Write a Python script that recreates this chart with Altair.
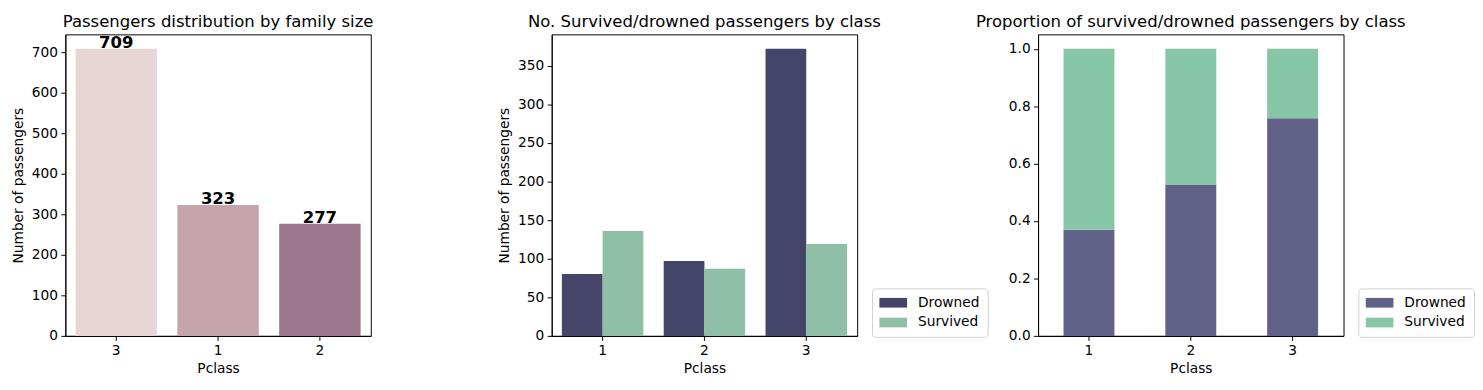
import altair as alt
import pandas as pd

# ---------------- data ----------------
# Panel 1: passengers by class (ordered as in the chart)
family_classes = ["3", "1", "2"]
family_counts = [709, 323, 277]
family_colors = ["#e8d6d6", "#c5a5ab", "#9d778b"]

# Panel 2: survived / drowned counts by class
pclasses = ["1", "2", "3"]
status_labels = ["Drowned", "Survived"]
drowned_counts = [80, 97, 372]
survived_counts = [136, 87, 119]
count_colors = ["#454569", "#8fbfa7"]

# Panel 3: proportions by class
drowned_prop = [0.370, 0.527, 0.758]
survived_prop = [0.630, 0.473, 0.242]
prop_colors = ["#626288", "#87c6a7"]

y1_ticks = [0, 100, 200, 300, 400, 500, 600, 700]
y2_ticks = [0, 50, 100, 150, 200, 250, 300, 350]
y3_ticks = [0.0, 0.2, 0.4, 0.6, 0.8, 1.0]

FONT = "DejaVu Sans"
W, H = 309, 305
FS = 13.9
TFS = 16.67

LEG_PATH = "M-1,-0.7H3V0.7H-1Z"


def legend_def():
    return alt.Legend(
        title=None,
        orient="none",
        legendX=324,
        legendY=257,
        fillColor="white",
        strokeColor="#d0d0d0",
        cornerRadius=3,
        padding=7.5,
        symbolType=LEG_PATH,
        symbolSize=196,
        symbolStrokeWidth=0,
        symbolOpacity=1,
        labelFont=FONT,
        labelFontSize=FS,
        labelColor="black",
        labelOffset=25,
        rowPadding=6,
    )


# ---------------- panel 1 ----------------
df1 = pd.DataFrame({"Pclass": family_classes, "count": family_counts})
x1 = alt.X(
    "Pclass:N",
    sort=family_classes,
    scale=alt.Scale(paddingInner=0.2, paddingOuter=0.1),
    axis=alt.Axis(title="Pclass", labelAngle=0),
)
y1 = alt.Y(
    "count:Q",
    scale=alt.Scale(domain=[0, 744.45], nice=False, zero=True),
    axis=alt.Axis(title="Number of passengers", values=y1_ticks),
)
bars1 = alt.Chart(df1).mark_bar().encode(
    x=x1,
    y=y1,
    color=alt.Color(
        "Pclass:N",
        scale=alt.Scale(domain=family_classes, range=family_colors),
        legend=None,
    ),
)
text1 = alt.Chart(df1).mark_text(
    font=FONT, fontSize=TFS, fontWeight="bold", baseline="alphabetic", dy=-1, color="black"
).encode(x=x1, y=y1, text="count:Q")
panel1 = (bars1 + text1).properties(
    width=W, height=H, title="Passengers distribution by family size"
)

# ---------------- panel 2 ----------------
rows2 = []
for i, c in enumerate(pclasses):
    rows2.append({"Pclass": c, "Status": status_labels[0], "count": drowned_counts[i]})
    rows2.append({"Pclass": c, "Status": status_labels[1], "count": survived_counts[i]})
df2 = pd.DataFrame(rows2)
panel2 = alt.Chart(df2).mark_bar().encode(
    x=alt.X(
        "Pclass:N",
        scale=alt.Scale(paddingInner=0.2, paddingOuter=0.1),
        axis=alt.Axis(title="Pclass", labelAngle=0),
    ),
    xOffset=alt.XOffset(
        "Status:N",
        scale=alt.Scale(domain=status_labels, paddingInner=0, paddingOuter=0),
    ),
    y=alt.Y(
        "count:Q",
        scale=alt.Scale(domain=[0, 390.6], nice=False),
        axis=alt.Axis(title="Number of passengers", values=y2_ticks),
    ),
    color=alt.Color(
        "Status:N",
        scale=alt.Scale(domain=status_labels, range=count_colors),
        legend=legend_def(),
    ),
).properties(width=W, height=H, title="No. Survived/drowned passengers by class")

# ---------------- panel 3 ----------------
rows3 = []
for i, c in enumerate(pclasses):
    rows3.append({"Pclass": c, "Group": status_labels[0], "prop": drowned_prop[i], "ord": 0})
    rows3.append({"Pclass": c, "Group": status_labels[1], "prop": survived_prop[i], "ord": 1})
df3 = pd.DataFrame(rows3)
panel3 = alt.Chart(df3).mark_bar().encode(
    x=alt.X(
        "Pclass:N",
        scale=alt.Scale(paddingInner=0.5, paddingOuter=0.25),
        axis=alt.Axis(title="Pclass", labelAngle=0),
    ),
    y=alt.Y(
        "prop:Q",
        stack="zero",
        scale=alt.Scale(domain=[0, 1.05], nice=False),
        axis=alt.Axis(title=None, values=y3_ticks, format=".1f"),
    ),
    color=alt.Color(
        "Group:N",
        scale=alt.Scale(domain=status_labels, range=prop_colors),
        legend=legend_def(),
    ),
    order=alt.Order("ord:Q", sort="ascending"),
).properties(width=W, height=H, title="Proportion of survived/drowned passengers by class")

chart = (
    alt.hconcat(panel1, panel2, panel3, spacing=183, bounds="flush")
    .resolve_scale(color="independent", y="independent", x="independent")
    .resolve_legend(color="independent")
    .properties(padding={"left": 2, "top": 2.5, "right": 0, "bottom": 5})
    .configure(font=FONT)
    .configure_view(stroke="black", strokeWidth=1)
    .configure_axis(
        grid=False,
        domainColor="black",
        domainWidth=1,
        tickColor="black",
        tickSize=4.5,
        tickWidth=1,
        labelFont=FONT,
        labelFontSize=FS,
        labelColor="black",
        labelPadding=3.5,
        titleFont=FONT,
        titleFontSize=FS,
        titleFontWeight="normal",
        titleColor="black",
    )
    .configure_axisY(titlePadding=6)
    .configure_axisX(titlePadding=4)
    .configure_title(
        font=FONT, fontSize=TFS, fontWeight="normal", color="black", anchor="middle", offset=4
    )
)

chart.save("out.html", embed_options={"renderer": "svg", "actions": False})
